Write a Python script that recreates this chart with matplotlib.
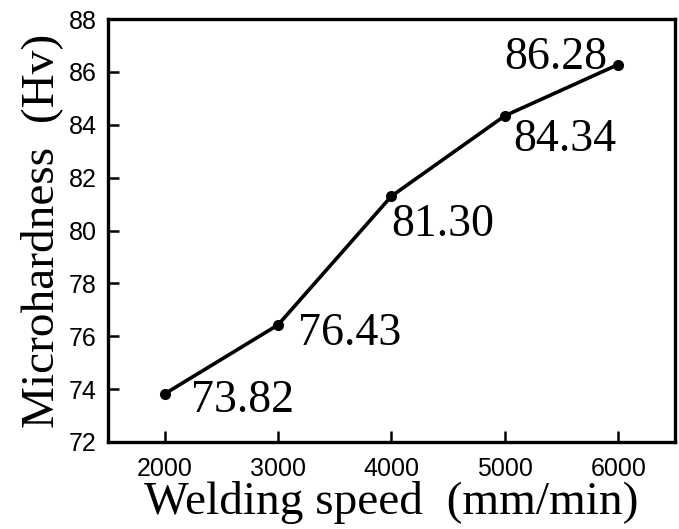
import matplotlib
matplotlib.use("Agg")
import matplotlib.pyplot as plt

speed = [2000, 3000, 4000, 5000, 6000]
hardness = [73.82, 76.43, 81.30, 84.34, 86.28]
labels = ["73.82", "76.43", "81.30", "84.34", "86.28"]
x_ticks = [2000, 3000, 4000, 5000, 6000]
y_ticks = [72, 74, 76, 78, 80, 82, 84, 86, 88]

# label offsets in pixels and alignment, per point
offsets = [(26, -18, "left"), (20, -20, "left"), (0, -40, "left"),
           (8, -35, "left"), (-11, -4, "right")]

fig = plt.figure(figsize=(6.79, 5.29), dpi=100)
ax = fig.add_axes([0.159, 0.1645, 0.835, 0.7995])

ax.plot(speed, hardness, color="black", linewidth=2.6, marker="o", markersize=7)

for x, y, lab, (dx, dy, ha) in zip(speed, hardness, labels, offsets):
    ax.annotate(lab, (x, y), xytext=(dx, dy), textcoords="offset pixels",
                ha=ha, va="baseline", fontsize=33, family="Liberation Serif")

ax.set_xlim(1500, 6500)
ax.set_ylim(72, 88)
ax.set_xticks(x_ticks)
ax.set_yticks(y_ticks)

for s in ax.spines.values():
    s.set_linewidth(2.4)

ax.tick_params(axis="both", direction="in", length=8, width=1.8)
ax.tick_params(axis="x", pad=11)
ax.tick_params(axis="y", pad=8)
for t in ax.get_xticklabels() + ax.get_yticklabels():
    t.set_fontfamily("Liberation Sans")
    t.set_fontsize(18)

ax.set_xlabel("Welding speed  (mm/min)", fontsize=34, family="Liberation Serif", labelpad=0)
ax.set_ylabel("Microhardness  (Hv)", fontsize=34, family="Liberation Serif", labelpad=4)

fig.savefig("out.png", dpi=100)
